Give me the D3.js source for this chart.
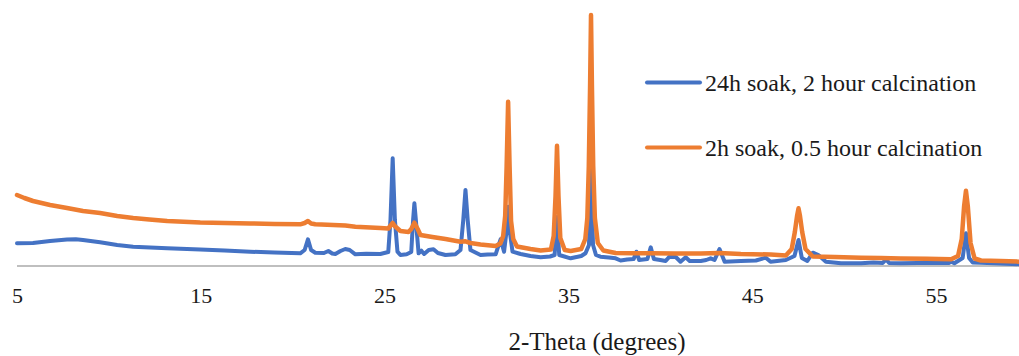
<!DOCTYPE html>
<html>
<head>
<meta charset="utf-8">
<script src="https://cdn.jsdelivr.net/npm/d3@7"></script>
<style>
  html, body { margin: 0; padding: 0; background: #fff; }
  svg { display: block; }
  svg text { font-family: "Liberation Serif", "DejaVu Serif", "Times New Roman", Times, serif; fill: #1a1a1a; }
</style>
</head>
<body>
<svg id="chart" width="1019" height="356"></svg>
<script>
// tick labels on the 2-theta axis
var xTicks = [5, 15, 25, 35, 45, 55];

// series names
var seriesNames = ["24h soak, 2 hour calcination", "2h soak, 0.5 hour calcination"];

// 24h soak, 2 hour calcination
var thetaBlue = [5.0, 5.87, 6.8, 7.72, 8.2, 8.59, 9.52, 10.45, 11.32, 13.17, 14.97, 16.3, 17.69, 19.0, 20.41,
  20.65, 20.83, 21.0, 21.23, 21.7, 21.94, 22.15, 22.32, 22.6, 22.86, 23.1, 23.41, 24.0, 24.77,
  25.2, 25.32, 25.44, 25.56, 25.7, 25.86, 26.2, 26.45, 26.55, 26.62, 26.7, 26.85, 27.0, 27.15, 27.4,
  27.66, 27.9, 28.31, 28.85, 29.13, 29.28, 29.4, 29.52, 29.67, 30.22, 30.6, 31.04, 31.31, 31.5,
  31.64, 31.72, 31.8, 31.96, 32.4, 32.94, 33.49, 34.0, 34.25, 34.38, 34.5, 35.12, 35.7, 35.93,
  36.12, 36.23, 36.34, 36.5, 36.74, 37.2, 37.57, 37.84, 38.2, 38.55, 38.7, 38.85, 39.3, 39.48, 39.65,
  40.0, 40.29, 40.5, 40.84, 41.1, 41.38, 41.6, 42.2, 42.5, 42.74, 42.95, 43.22, 43.5, 44.38,
  45.2, 45.74, 46.0, 46.83, 47.3, 47.52, 47.7, 48.0, 48.3, 48.6, 49.01, 49.83, 50.92, 51.6,
  52.1, 52.28, 52.45, 53.09, 54.0, 55.0, 55.7, 55.82, 56.0, 56.45, 56.63, 56.8, 57.0, 57.45, 58.5, 59.6];
var countsBlue = [227, 230, 250, 265, 267, 260, 237, 210, 193, 177, 165, 155, 143, 135, 127,
  160, 267, 160, 133, 130, 150, 125, 120, 150, 170, 160, 117, 122, 120,
  140, 460, 1077, 460, 143, 110, 118, 140, 460, 627, 460, 127, 153, 120, 160,
  167, 130, 110, 117, 160, 460, 760, 460, 160, 110, 115, 117, 267, 143,
  360, 593, 360, 143, 120, 100, 87, 95, 110, 490, 110, 77, 100, 127,
  210, 960, 210, 110, 93, 85, 77, 55, 65, 70, 143, 60, 70, 187, 70,
  60, 50, 93, 90, 43, 87, 50, 50, 60, 77, 60, 170, 43, 50,
  55, 83, 43, 60, 100, 260, 80, 50, 133, 110, 43, 27, 27, 35,
  30, 67, 30, 27, 30, 32, 30, 43, 27, 80, 327, 80, 35, 33, 25, 17];

// 2h soak, 0.5 hour calcination
var thetaOrange = [5.0, 5.4, 5.87, 6.8, 7.72, 8.59, 9.52, 10.45, 11.32, 12.2, 13.17, 14.97, 16.3, 17.69, 19.0, 20.41,
  20.65, 20.83, 21.0, 21.23, 22.86, 23.41, 24.77, 25.2, 25.35, 25.44, 25.55, 25.86, 26.3,
  26.45, 26.62, 26.8, 26.95, 27.6, 28.31, 29.13, 29.4, 29.67, 30.22, 31.04, 31.3, 31.45, 31.56, 31.64,
  31.72, 31.8, 31.88, 32.0, 32.2, 32.94, 33.49, 34.05, 34.2, 34.3, 34.38, 34.46, 34.56, 34.8, 35.12,
  35.7, 35.92, 36.03, 36.11, 36.18, 36.23, 36.28, 36.35, 36.44, 36.6, 36.9, 37.57, 38.5, 39.48, 40.8, 42.2, 43.22,
  44.38, 46.0, 46.83, 47.15, 47.32, 47.44, 47.52, 47.6, 47.72, 47.9, 48.3, 49.5, 50.92, 52.0, 53.09, 54.5,
  55.82, 56.2, 56.4, 56.53, 56.63, 56.73, 56.88, 57.1, 57.45, 58.5, 59.6];
var countsOrange = [710, 680, 650, 610, 580, 550, 530, 500, 480, 465, 450, 435, 430, 425, 420, 417,
  430, 450, 425, 417, 405, 393, 380, 375, 410, 430, 400, 350, 340,
  370, 433, 370, 310, 290, 270, 243, 247, 230, 215, 200, 225, 300, 500, 1000,
  1643, 1000, 450, 270, 195, 170, 155, 165, 300, 700, 1203, 700, 280, 160, 150,
  170, 270, 480, 1000, 1800, 2510, 1800, 1000, 480, 230, 155, 130, 128, 127, 126, 125, 130,
  120, 115, 105, 170, 340, 500, 577, 500, 340, 170, 95, 90, 83, 80, 75, 72,
  67, 100, 270, 600, 753, 600, 230, 75, 55, 50, 43];

var blue = "#4472C4", orange = "#ED7D31";
var serif = "'Liberation Serif', 'DejaVu Serif', 'Times New Roman', Times, serif";

var svg = d3.select("#chart");
var W = 1019, H = 356;

var x = d3.scaleLinear().domain([5, 60]).range([17, 17 + 55 * 18.38]);
var y = d3.scaleLinear().domain([0, 2600]).range([266, 6]);

// horizontal axis line
svg.append("line")
  .attr("x1", x(5)).attr("x2", W)
  .attr("y1", y(0)).attr("y2", y(0))
  .attr("stroke", "#bfbfbf").attr("stroke-width", 2);

// axis tick labels via d3 axis (no line, no ticks)
var xAxis = d3.axisBottom(x).tickValues(xTicks).tickSize(0).tickPadding(0).tickFormat(d3.format("d"));
var gx = svg.append("g")
  .attr("transform", "translate(0," + 287.5 + ")")
  .call(xAxis);
gx.attr("font-family", serif).attr("font-size", 22);
gx.select(".domain").remove();
gx.selectAll("text")
  .style("font-family", serif)
  .style("font-size", "22px")
  .attr("fill", "#1a1a1a");

svg.append("text")
  .attr("x", 597).attr("y", 350)
  .attr("text-anchor", "middle")
  .style("font-family", serif)
  .style("font-size", "25px")
  .text("2-Theta (degrees)");

var line = d3.line()
  .x(function (d) { return x(d[0]); })
  .y(function (d) { return y(d[1]); });

var orangePts = d3.zip(thetaOrange, countsOrange);
var bluePts = d3.zip(thetaBlue, countsBlue);

svg.append("path").datum(bluePts)
  .attr("d", line).attr("fill", "none")
  .attr("stroke", blue).attr("stroke-width", 4)
  .attr("stroke-linejoin", "round").attr("stroke-linecap", "round");

svg.append("path").datum(orangePts)
  .attr("d", line).attr("fill", "none")
  .attr("stroke", orange).attr("stroke-width", 4.5)
  .attr("stroke-linejoin", "round").attr("stroke-linecap", "round");

// legend
var legend = svg.append("g");
[[seriesNames[0], blue, 82.5], [seriesNames[1], orange, 147.5]].forEach(function (s) {
  legend.append("line")
    .attr("x1", 647).attr("x2", 700)
    .attr("y1", s[2]).attr("y2", s[2])
    .attr("stroke", s[1]).attr("stroke-width", 4).attr("stroke-linecap", "round");
  legend.append("text")
    .attr("x", 705).attr("y", s[2] + 8.5)
    .style("font-family", serif)
    .style("font-size", "24px")
    .text(s[0]);
});
</script>
</body>
</html>
